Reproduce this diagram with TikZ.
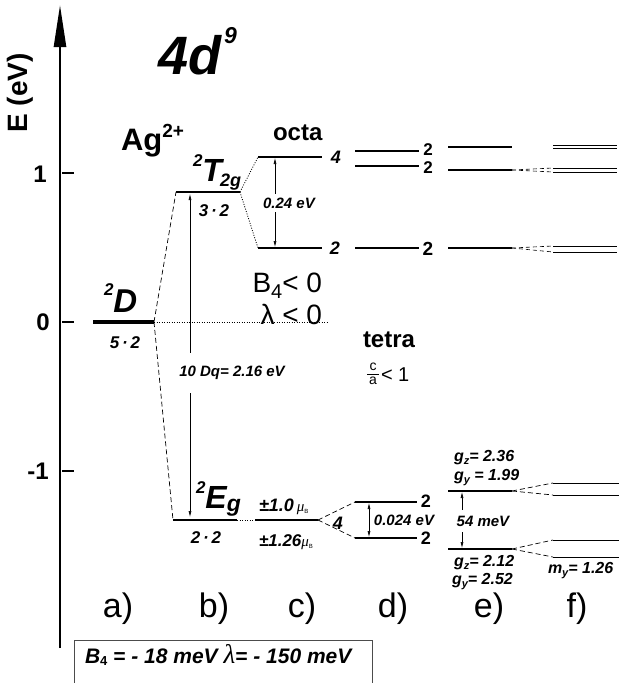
\documentclass[tikz,border=0pt]{standalone}
\usepackage{fontspec}
\setmainfont{Liberation Sans}
\newfontfamily\sgreek{Liberation Serif}
\usetikzlibrary{arrows.meta}
\newcommand{\fs}[1]{\fontsize{#1}{#1}\selectfont}
\begin{document}
\begin{tikzpicture}[x=1pt,y=-1pt,
  every node/.style={inner sep=0pt, outer sep=0pt},
  levA/.style={line width=3.6pt},
  levB/.style={line width=2.6pt},
  levC/.style={line width=1.3pt},
  levF/.style={line width=0.8pt},
  dsh/.style={line width=0.7pt, dash pattern=on 5pt off 3pt},
  fdsh/.style={line width=0.6pt, dash pattern=on 4pt off 3pt},
  dts/.style={line width=0.8pt, dash pattern=on 1pt off 1.5pt},
  gaparr/.style={line width=0.6pt, {Latex[length=6pt,width=3pt]}-{Latex[length=6pt,width=3pt]}},
  bi/.style={font=\fs{#1}\bfseries\itshape},
  bu/.style={font=\fs{#1}\bfseries},
  rg/.style={font=\fs{#1}},
  wlab/.style={fill=white, inner xsep=1pt},
]
\useasboundingbox (0,0) rectangle (619,683);

% axis
\coordinate (axb) at (60,648);
\coordinate (axt) at (60,5);
\draw[line width=2.5pt, -{Triangle[length=42pt,width=12pt]}] (axb) -- (axt);
\foreach \y/\n in {173/t1,322/t0,471/tm}{
  \coordinate (\n a) at (62,\y); \coordinate (\n b) at (74,\y);
  \draw[line width=2pt] (\n a) -- (\n b);}
\node[bu=24] (l1) at (40,174) {1};
\node[bu=24] (l0) at (43,322) {0};
\node[bu=24] (lm1) at (38,471) {-1};
\node[bu=28, rotate=90] (elab) at (20,93) {E (eV)};

\node[bi=54, anchor=base west] (dn) at (158,74) {4d\kern3pt\raisebox{31pt}{\fs{23}9}};
\node[bu=31, anchor=base west] (ag) at (121,150) {Ag\raisebox{13pt}{\fs{19}2+}};
\node[bu=24, anchor=base west] (octa) at (273,140) {octa};

% a) 2D
\coordinate (Dl) at (93,322); \coordinate (Dr) at (154,322);
\draw[levA] (Dl) -- (Dr);
\node[bi=33, anchor=base west] (Dlab) at (104,312) {\raisebox{17pt}{\fs{17}2}D};
\node[bi=17] (Dg) at (125,343) {5\,·\,2};
\coordinate (Dend) at (328,322);
\draw[dts] (Dr) -- (Dend);

% b) 2T2g, 2Eg
\coordinate (Tl) at (176,192); \coordinate (Tr) at (240,192);
\draw[levB] (Tl) -- (Tr);
\node[bi=32, anchor=base west] (Tlab) at (193,181) {\raisebox{15pt}{\fs{17}2}T\kern-2pt\raisebox{-5pt}{\fs{18}2g}};
\node[bi=17] (Tg) at (214,211) {3\,·\,2};
\coordinate (El) at (173,520); \coordinate (Er) at (237,520);
\draw[levB] (El) -- (Er);
\node[bi=32, anchor=base west] (Elab) at (196,508) {\raisebox{15pt}{\fs{17}2}E\raisebox{-3pt}{\fs{23}g}};
\node[bi=17] (Eg) at (206,538) {2\,·\,2};
\draw[dsh] (Dr) -- (Tl);
\draw[dsh] (Dr) -- (El);
\coordinate (dqt) at (190,194); \coordinate (dqb) at (190,517);
\draw[gaparr] (dqt) -- (dqb);
\node[bi=15, wlab, inner ysep=13pt] (dq) at (232,373) {10 Dq= 2.16 eV};

% c) octa
\coordinate (O4l) at (258,157); \coordinate (O4r) at (322,157);
\coordinate (O2l) at (258,248); \coordinate (O2r) at (322,248);
\draw[levC] (O4l) -- (O4r);
\draw[levC] (O2l) -- (O2r);
\draw[dts] (Tr) -- (O4l);
\draw[dts] (Tr) -- (O2l);
\coordinate (oat) at (275,158); \coordinate (oab) at (275,247);
\draw[gaparr] (oat) -- (oab);
\node[bi=15, wlab, inner ysep=4pt] (oeV) at (289,203) {0.24 eV};
\node[bi=18] (o4) at (336,157) {4};
\node[bi=18] (o2) at (335,248) {2};

\node[rg=28, anchor=base east] (b4) at (322,292) {B\raisebox{-6pt}{\fs{20}4}< 0};
\node[rg=28, anchor=base east] (lam) at (322,324) {λ < 0};

% d) top
\foreach \n/\y in {d1/151,d2/166,d3/248}{
  \coordinate (\n l) at (355,\y); \coordinate (\n r) at (419,\y);
  \draw[levC] (\n l) -- (\n r);}
\node[bu=17] (d1n) at (428,150) {2};
\node[bu=17] (d2n) at (428,167.5) {2};
\node[bu=19] (d3n) at (428,249) {2};

% e) top
\foreach \n/\y in {e1/147,e2/170,e3/248}{
  \coordinate (\n l) at (448,\y); \coordinate (\n r) at (512,\y);
  \draw[levC] (\n l) -- (\n r);}

% f) top pairs
\foreach \n/\y in {fa/145.5,fb/148.5,fc/168,fd/172,fe/246,ff/252}{
  \coordinate (\n l) at (553,\y); \coordinate (\n r) at (617,\y);
  \draw[levF] (\n l) -- (\n r);}
\draw[fdsh] (e2r) -- (fcl);
\draw[fdsh] (e2r) -- (fdl);
\draw[fdsh] (e3r) -- (fel);
\draw[fdsh] (e3r) -- (ffl);

% tetra
\node[bu=24, anchor=base west] (tetra) at (363,347) {tetra};
\node[rg=14] (fcn) at (373,367) {c};
\node[rg=14] (fan) at (373,381) {a};
\coordinate (fbl) at (367,374); \coordinate (fbr) at (379,374);
\draw[line width=0.6pt] (fbl) -- (fbr);
\node[rg=20, anchor=west] (lt1) at (381,375) {< 1};

% c) tetra level
\coordinate (Cl) at (255,520); \coordinate (Cr) at (318,520);
\draw[line width=1.6pt] (Cl) -- (Cr);
\draw[dts] (Er) -- (Cl);
\node[anchor=west] (mu1) at (259,507) {{\bfseries\itshape\fs{18}±1.0\,}{\sgreek\itshape\fs{15}μ}\raisebox{-2pt}{\fs{6}B}};
\node[anchor=west] (mu2) at (259,542) {{\bfseries\itshape\fs{17}±1.26}{\sgreek\itshape\fs{15}μ}\raisebox{-2pt}{\fs{6}B}};
\node[bi=18] (c4) at (338,523) {4};

% d) lower
\coordinate (d4l) at (355,502); \coordinate (d4r) at (417,502);
\coordinate (d5l) at (355,538); \coordinate (d5r) at (417,538);
\draw[levC] (d4l) -- (d4r);
\draw[levC] (d5l) -- (d5r);
\draw[dsh] (Cr) -- (d4l);
\draw[dsh] (Cr) -- (d5l);
\node[bu=18] (d4n) at (426,501) {2};
\node[bu=18] (d5n) at (426,538) {2};
\coordinate (dat) at (369,503); \coordinate (dab) at (369,537);
\draw[gaparr] (dat) -- (dab);
\node[bi=15] (deV) at (404,520) {0.024 eV};

% e) lower
\coordinate (e4l) at (448,491); \coordinate (e4r) at (512,491);
\coordinate (e5l) at (448,549); \coordinate (e5r) at (512,549);
\draw[levC] (e4l) -- (e4r);
\draw[levC] (e5l) -- (e5r);
\coordinate (eat) at (462,492); \coordinate (eab) at (462,548);
\draw[gaparr] (eat) -- (eab);
\node[bi=15, wlab, inner ysep=6pt] (emev) at (483,521) {54 meV};
\node[bi=16, anchor=west] (gz1) at (454,458) {g\raisebox{-3pt}{\fs{11}z}= 2.36};
\node[bi=16, anchor=west] (gy1) at (454,478) {g\raisebox{-3pt}{\fs{11}y} = 1.99};
\node[bi=16, anchor=west] (gz2) at (454,563) {g\raisebox{-3pt}{\fs{11}z}= 2.12};
\node[bi=16, anchor=west] (gy2) at (452,582) {g\raisebox{-3pt}{\fs{11}y}= 2.52};

% f) lower
\foreach \n/\y in {fg/483,fh/495,fi/540,fj/557}{
  \coordinate (\n l) at (553,\y); \coordinate (\n r) at (619,\y);
  \draw[levF] (\n l) -- (\n r);}
\draw[dsh] (e4r) -- (fgl);
\draw[dsh] (e4r) -- (fhl);
\draw[dsh] (e5r) -- (fil);
\draw[dsh] (e5r) -- (fjl);
\node[bi=16, anchor=west] (my) at (548,571) {m\raisebox{-3pt}{\fs{11}y}= 1.26};

% panel labels
\node[rg=34, anchor=base] (pa) at (118,617) {a)};
\node[rg=34, anchor=base] (pb) at (214,617) {b)};
\node[rg=34, anchor=base] (pc) at (302,617) {c)};
\node[rg=34, anchor=base] (pd) at (393,617) {d)};
\node[rg=34, anchor=base] (pe) at (489,617) {e)};
\node[rg=34, anchor=base] (pf) at (577,617) {f)};

% bottom box
\coordinate (bx1) at (74,690); \coordinate (bx2) at (74,640);
\coordinate (bx3) at (372,640); \coordinate (bx4) at (372,690);
\draw[line width=0.8pt, black!70] (bx1) -- (bx2) -- (bx3) -- (bx4);
\node[anchor=base west] (btxt) at (85,663) {\bfseries\itshape\fs{21}B\raisebox{-2pt}{\fs{13}\upshape 4} = - 18 meV {\sgreek\mdseries\itshape\fs{27}λ}= - 150 meV};
\end{tikzpicture}
\end{document}
